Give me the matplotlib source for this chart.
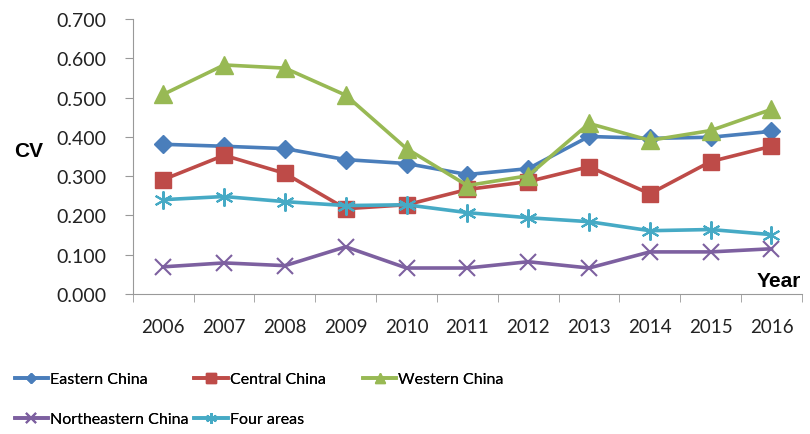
import matplotlib.pyplot as plt

plt.rcParams["font.family"] = ["Lato", "DejaVu Sans"]

years = ["2006", "2007", "2008", "2009", "2010", "2011", "2012", "2013", "2014", "2015", "2016"]
eastern = [0.381, 0.376, 0.370, 0.342, 0.332, 0.304, 0.319, 0.401, 0.396, 0.399, 0.414]
central = [0.291, 0.353, 0.307, 0.217, 0.227, 0.266, 0.286, 0.324, 0.255, 0.337, 0.376]
western = [0.508, 0.583, 0.575, 0.506, 0.370, 0.276, 0.301, 0.434, 0.391, 0.416, 0.470]
northeastern = [0.069, 0.079, 0.072, 0.120, 0.066, 0.066, 0.082, 0.066, 0.107, 0.107, 0.115]
four_areas = [0.240, 0.248, 0.235, 0.225, 0.227, 0.207, 0.194, 0.184, 0.161, 0.164, 0.151]

fig = plt.figure(figsize=(8.1, 4.35), dpi=100)
ax = fig.add_axes([0.164, 0.322, 0.826, 0.632])

x = list(range(len(years)))
h1, = ax.plot(x, eastern, color="#4a7ebb", lw=2.6, marker="D", ms=9, label="Eastern China")
h2, = ax.plot(x, central, color="#be4b48", lw=2.6, marker="s", ms=11, label="Central China")
h3, = ax.plot(x, western, color="#98b954", lw=2.6, marker="^", ms=13, label="Western China")
h4, = ax.plot(x, northeastern, color="#7d60a0", lw=2.6, marker="x", ms=11, mew=1.5, label="Northeastern China")
h5, = ax.plot(x, four_areas, color="#46aac5", lw=2.6, marker=(6, 2, 0), ms=13, mew=1.5, label="Four areas")

ax.set_xlim(-0.5, len(years) - 0.5)
ax.set_ylim(0, 0.7)
ax.set_yticks([i / 10 for i in range(8)])
ax.set_yticklabels([f"{i / 10:.3f}" for i in range(8)], fontsize=14, color="#222222")
ax.set_xticks(x)
ax.set_xticklabels(years, fontsize=13.5, color="#222222")
ax.set_xticks([i - 0.5 for i in range(len(years) + 1)], minor=True)
ax.tick_params(axis="x", which="major", length=0, pad=17)
ax.tick_params(axis="x", which="minor", length=6, color="#999999")
ax.tick_params(axis="y", length=6, color="#999999", pad=13)

for s in ["top", "right"]:
    ax.spines[s].set_visible(False)
for s in ["left", "bottom"]:
    ax.spines[s].set_color("#999999")

fig.text(0.017, 0.64, "CV", fontsize=15, fontweight="bold", family="Liberation Sans")
fig.text(0.934, 0.34, "Year", fontsize=15, fontweight="bold", family="Liberation Sans")

cols = [([h1, h4], 0.018), ([h2, h5], 0.240), ([h3], 0.448)]
for hs, x0 in cols:
    leg = fig.legend(handles=hs, loc="upper left", bbox_to_anchor=(x0, 0.142),
                     frameon=False, fontsize=11.5, markerscale=0.6, handlelength=2.1,
                     handletextpad=0.1, labelspacing=1.6, borderaxespad=0, borderpad=0)
    fig.add_artist(leg)

plt.savefig("out.png")
